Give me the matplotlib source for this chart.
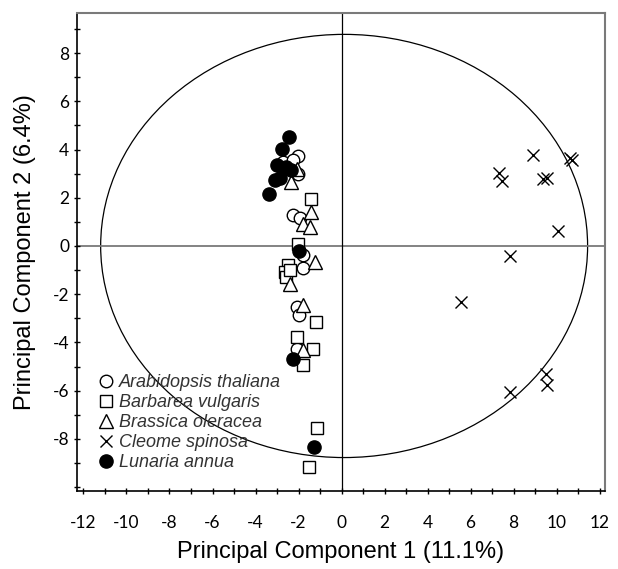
import numpy as np
import matplotlib.pyplot as plt
from matplotlib.patches import Ellipse
from matplotlib.ticker import MultipleLocator, FixedLocator

plt.rcParams['axes.unicode_minus'] = False

# Scores (PC1, PC2)
arab_x = [-2.02, -2.72, -2.25, -2.02, -2.25, -1.94, -1.79, -1.79, -2.09, -1.97, -2.09]
arab_y = [3.72, 3.49, 3.56, 3.00, 1.27, 1.16, -0.39, -0.90, -2.53, -2.88, -4.26]

barb_x = [-1.43, -2.02, -2.48, -2.64, -2.59, -2.40, -1.20, -2.09, -1.35, -1.79, -1.16, -1.51]
barb_y = [1.94, 0.10, -0.80, -1.08, -1.29, -0.98, -3.15, -3.78, -4.26, -4.95, -7.54, -9.17]

bras_x = [-2.33, -2.09, -1.40, -1.79, -1.47, -1.24, -2.40, -1.79, -1.79]
bras_y = [2.66, 3.21, 1.41, 0.93, 0.79, -0.66, -1.56, -2.46, -4.33]

cleo_x = [8.91, 10.60, 10.70, 7.33, 7.44, 9.35, 9.53, 10.08, 7.83, 5.55, 7.83, 9.50, 9.53]
cleo_y = [3.76, 3.63, 3.55, 3.03, 2.70, 2.77, 2.80, 0.61, -0.41, -2.32, -6.06, -5.30, -5.78]

luna_x = [-2.44, -2.79, -3.02, -2.56, -2.33, -3.10, -2.87, -3.37, -1.97, -2.28, -1.29]
luna_y = [4.52, 4.04, 3.35, 3.28, 3.14, 2.73, 2.80, 2.17, -0.21, -4.67, -8.34]

x_ticks = [-12, -10, -8, -6, -4, -2, 0, 2, 4, 6, 8, 10, 12]
y_ticks = [-8, -6, -4, -2, 0, 2, 4, 6, 8]

fig = plt.figure(figsize=(6.18, 5.69), dpi=100)
ax = fig.add_axes([0.1246, 0.1376, 0.8544, 0.8395])

# confidence ellipse
ax.add_patch(Ellipse((0.12, 0), 22.64, 17.55, fill=False, edgecolor='black', linewidth=0.9))
ax.axhline(0, color='#7a7a7a', linewidth=1.3, zorder=1)
ax.axvline(0, color='black', linewidth=0.9, zorder=1)

kw = dict(linestyle='none', markersize=9, markeredgewidth=1.0, markeredgecolor='black')
ax.plot(arab_x, arab_y, marker='o', markerfacecolor='white', label='Arabidopsis thaliana', **kw)
ax.plot(barb_x, barb_y, marker='s', markerfacecolor='white', label='Barbarea vulgaris', **kw)
ax.plot(bras_x, bras_y, marker='^', markerfacecolor='white', label='Brassica oleracea', markersize=10, markeredgewidth=1.0, markeredgecolor='black', linestyle='none')
ax.plot(cleo_x, cleo_y, marker='x', color='black', label='Cleome spinosa', linestyle='none', markersize=9, markeredgewidth=1.0)
ax.plot(luna_x, luna_y, marker='o', markerfacecolor='black', label='Lunaria annua', markersize=9.5, markeredgewidth=1.0, markeredgecolor='black', linestyle='none')

ax.set_xlim(-12.3, 12.25)
ax.set_ylim(-10.15, 9.66)
ax.xaxis.set_major_locator(FixedLocator(x_ticks))
ax.xaxis.set_minor_locator(MultipleLocator(1))
ax.yaxis.set_major_locator(FixedLocator(y_ticks))
ax.yaxis.set_minor_locator(FixedLocator(range(-10, 10)))
ax.tick_params(which='both', direction='inout', length=5, width=1, labelsize=12.5)
ax.tick_params(axis='x', pad=15)
ax.tick_params(axis='y', pad=3)
for lab in ax.get_xticklabels() + ax.get_yticklabels():
    lab.set_family('Lato')

for s in ['left', 'bottom']:
    ax.spines[s].set_color('black')
    ax.spines[s].set_linewidth(1.2)
for s in ['top', 'right']:
    ax.spines[s].set_color('#7a7a7a')
    ax.spines[s].set_linewidth(1.5)

ax.set_xlabel('Principal Component 1 (11.1%)', fontsize=17, family='Liberation Sans', labelpad=7)
ax.set_ylabel('Principal Component 2 (6.4%)', fontsize=17, family='Liberation Sans', labelpad=12)

leg = ax.legend(loc='lower left', bbox_to_anchor=(0.015, 0.018), frameon=False,
                prop={'family': 'Liberation Sans', 'style': 'italic', 'size': 13},
                handletextpad=0.2, labelspacing=0.17, handlelength=1.1, borderaxespad=0.2)
for t in leg.get_texts():
    t.set_color('#333333')

plt.savefig('out.png', dpi=100)
